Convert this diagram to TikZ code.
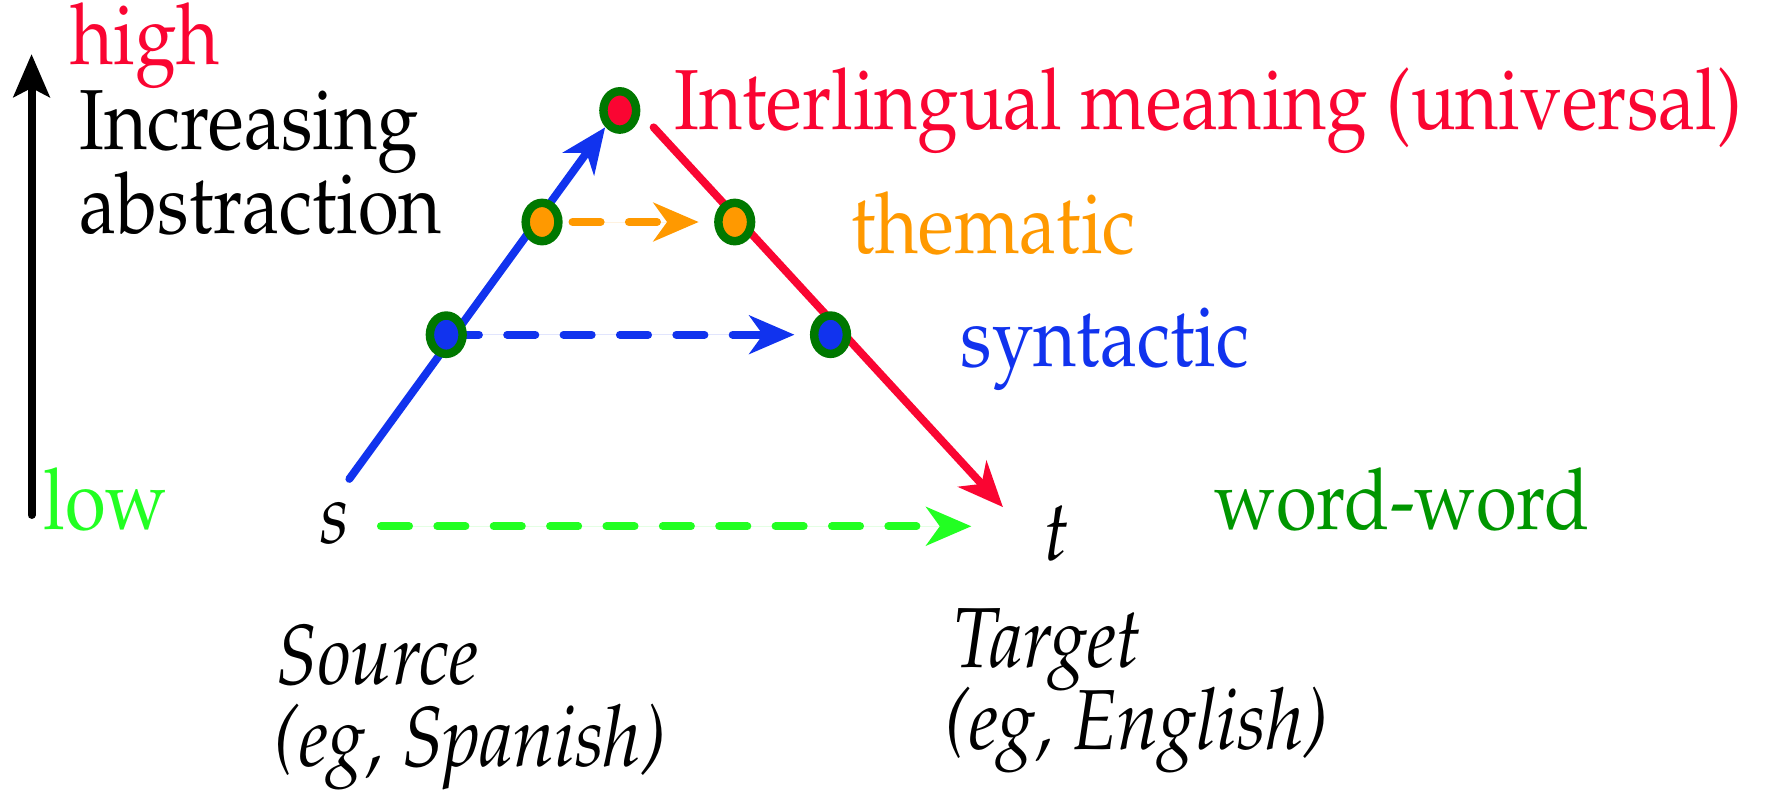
\documentclass[tikz,border=0pt]{standalone}
\usepackage[T1]{fontenc}
\usepackage{mathpazo}
\usetikzlibrary{arrows.meta,shapes.geometric}
\definecolor{myred}{RGB}{250,5,50}
\definecolor{myblue}{RGB}{17,51,238}
\definecolor{myorange}{RGB}{255,153,0}
\definecolor{ringgreen}{RGB}{0,120,0}
\definecolor{brightgreen}{RGB}{34,255,34}
\definecolor{wordgreen}{RGB}{0,150,0}
\newcommand{\tallt}[1]{\scalebox{1}[1.15]{#1}}
\begin{document}
\begin{tikzpicture}[x=0.01cm,y=-0.01cm,
  lbl/.style={anchor=base west,inner sep=0pt,font=\fontsize{18.7}{22}\selectfont},
  ilbl/.style={lbl,font=\fontsize{18.7}{22}\selectfont\itshape},
  dotnode/.style={ellipse,minimum width=0.29cm,minimum height=0.34cm,inner sep=0pt,draw=ringgreen,line width=0.075cm},
  solidarrow/.style={line width=0.07cm,line cap=round,-{Stealth[length=0.4cm,width=0.34cm,inset=0.12cm]}},
  dasharrow/.style={line width=0.07cm,line cap=round,dash pattern=on 0.25cm off 0.25cm,-{Stealth[length=0.4cm,width=0.34cm,inset=0.12cm]}},
]
\useasboundingbox (0,0) rectangle (1568,705);
% axis
\coordinate (axlow) at (28,457);
\coordinate (axhigh) at (28,48);
\draw[line width=0.07cm,line cap=round,-{Stealth[length=0.38cm,width=0.32cm,inset=0.08cm]}] (axlow) -- (axhigh);
\node[lbl,text=myred] (high) at (62,57) {\tallt{high}};
\node[lbl] (inc) at (70,133) {\tallt{Increasing}};
\node[lbl] (abs) at (70,207) {\tallt{abstraction}};
\node[lbl,text=brightgreen] (low) at (38,470) {\tallt{low}};
% triangle
\coordinate (bstart) at (310,425);
\coordinate (bend) at (537,113);
\coordinate (rstart) at (580,113);
\coordinate (rend) at (890,450);
\draw[solidarrow,draw=myblue,fill=myblue] (bstart) -- (bend);
\draw[solidarrow,draw=myred,fill=myred] (rstart) -- (rend);
% horizontal
\coordinate (ostart) at (508,197);
\coordinate (oend) at (620,197);
\coordinate (bdstart) at (400,297);
\coordinate (bdend) at (705,297);
\coordinate (gstart) at (338,467);
\coordinate (gend) at (862,467);
\draw[dasharrow,draw=myorange,fill=myorange] (ostart) -- (oend);
\draw[dasharrow,draw=myblue,fill=myblue] (bdstart) -- (bdend);
\draw[dasharrow,draw=brightgreen,fill=brightgreen] (gstart) -- (gend);
% dots
\node[dotnode,fill=myred] (top) at (550,98) {};
\node[dotnode,fill=myorange] (ol) at (481,197) {};
\node[dotnode,fill=myorange] (or) at (652,197) {};
\node[dotnode,fill=myblue] (bl) at (396,297) {};
\node[dotnode,fill=myblue] (br) at (737,297) {};
% labels
\node[lbl,text=myred] (inter) at (598,115) {\tallt{Interlingual meaning (universal)}};
\node[lbl,text=myorange] (them) at (755,225) {\tallt{thematic}};
\node[lbl,text=myblue] (syn) at (852,325) {\tallt{syntactic}};
\node[lbl,text=wordgreen] (ww) at (1077,470) {\tallt{word-word}};
\node[lbl] (s) at (283,482) {\tallt{$s$}};
\node[lbl] (t) at (925,497) {\tallt{$t$}};
\node[ilbl] (src) at (245,607) {\tallt{Source}};
\node[ilbl] (srce) at (243,680) {\tallt{(eg, Spanish)}};
\node[ilbl] (tgt) at (845,592) {\tallt{Target}};
\node[ilbl] (tgte) at (838,665) {\tallt{(eg, English)}};
\end{tikzpicture}
\end{document}
